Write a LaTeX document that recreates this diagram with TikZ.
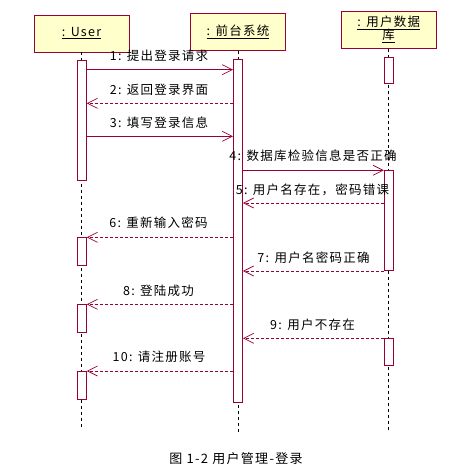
\documentclass[tikz,border=0pt]{standalone}
\usepackage{fontspec}
\usetikzlibrary{arrows.meta}
\newfontfamily\cjk{Noto Sans CJK SC}[LetterSpace=10]
\definecolor{umlred}{RGB}{153,0,51}
\definecolor{umlfill}{RGB}{255,255,204}
\begin{document}
\begin{tikzpicture}[x=1pt,y=-1pt,
  obj/.style={draw=umlred,fill=umlfill,line width=0.9pt,minimum width=95pt,minimum height=37pt,inner sep=0pt,align=center,font=\cjk\fontsize{12.5}{15}\selectfont},
  actbar/.style={draw=umlred,fill=white,line width=0.9pt,minimum width=9pt,inner sep=0pt,anchor=north},
  life/.style={draw=black,line width=0.7pt,dash pattern=on 3pt off 3pt},
  call/.style={draw=umlred,line width=0.9pt,-{Straight Barb[length=10pt,width=10pt,line width=0.7pt]}},
  reply/.style={call,dash pattern=on 3pt off 2pt},
  lbl/.style={font=\cjk\fontsize{12.5}{14}\selectfont,inner sep=0pt}]
\useasboundingbox (0,0) rectangle (466,473);
% objects
\node[obj] (u) at (81.5,33.5) {\underline{: User}};
\node[obj] (f) at (238,31.7) {\underline{: 前台系统}};
\node[obj] (d) at (388.7,29.7) {\underline{: 用户数据}\\[-2pt]\underline{库}};
% lifeline ends
\coordinate (ue) at (82,428);
\coordinate (fe) at (238,432);
\coordinate (de) at (389,431);
\draw[life] (u.south) -- (u.south |- ue);
\draw[life] (f.south) -- (f.south |- fe);
\draw[life] (d.south) -- (d.south |- de);
% activations
\node[actbar,minimum height=120pt] (ua1) at (81.8,60) {};
\node[actbar,minimum height=28pt] (ua2) at (81.8,237.3) {};
\node[actbar,minimum height=28pt] (ua3) at (81.8,304.3) {};
\node[actbar,minimum height=28.3pt] (ua4) at (81.8,371) {};
\node[actbar,minimum height=343.6pt] (fa) at (238,58.7) {};
\node[actbar,minimum height=26.6pt] (da1) at (388.8,56.7) {};
\node[actbar,minimum height=100pt] (da2) at (388.8,170.3) {};
\node[actbar,minimum height=27pt] (da3) at (388.8,338.3) {};
% message rows
\coordinate (y1) at (0,69.7);
\coordinate (y2) at (0,103.3);
\coordinate (y3) at (0,136.3);
\coordinate (y4) at (0,170.3);
\coordinate (y5) at (0,203);
\coordinate (y6) at (0,237.3);
\coordinate (y7) at (0,271);
\coordinate (y8) at (0,304.3);
\coordinate (y9) at (0,338.3);
\coordinate (y10) at (0,371);
\draw[call] (ua1.east |- y1) -- (fa.west |- y1);
\draw[reply] (fa.west |- y2) -- (ua1.east |- y2);
\draw[call] (ua1.east |- y3) -- (fa.west |- y3);
\draw[call] (fa.east |- y4) -- (da2.west |- y4);
\draw[reply] (da2.west |- y5) -- (fa.east |- y5);
\draw[reply] (fa.west |- y6) -- (ua2.east |- y6);
\draw[reply] (da2.west |- y7) -- (fa.east |- y7);
\draw[reply] (fa.west |- y8) -- (ua3.east |- y8);
\draw[reply] (da3.west |- y9) -- (fa.east |- y9);
\draw[reply] (fa.west |- y10) -- (ua4.east |- y10);
% labels
\node[lbl] (l1) at (159,56) {1: 提出登录请求};
\node[lbl] (l2) at (159,89.5) {2: 返回登录界面};
\node[lbl] (l3) at (159,122.5) {3: 填写登录信息};
\node[lbl] (l4) at (313,156) {4: 数据库检验信息是否正确};
\node[lbl] (l5) at (312.5,189.5) {5: 用户名存在，密码错课};
\node[lbl] (l6) at (158.5,223) {6: 重新输入密码};
\node[lbl] (l7) at (313.5,257.5) {7: 用户名密码正确};
\node[lbl] (l8) at (158.5,290.5) {8: 登陆成功};
\node[lbl] (l9) at (312.5,324.3) {9: 用户不存在};
\node[lbl] (l10) at (159,357) {10: 请注册账号};
\node[lbl,font=\cjk\fontsize{13}{15}\selectfont] (cap) at (236,459) {图 1-2 用户管理-登录};
\end{tikzpicture}
\end{document}
